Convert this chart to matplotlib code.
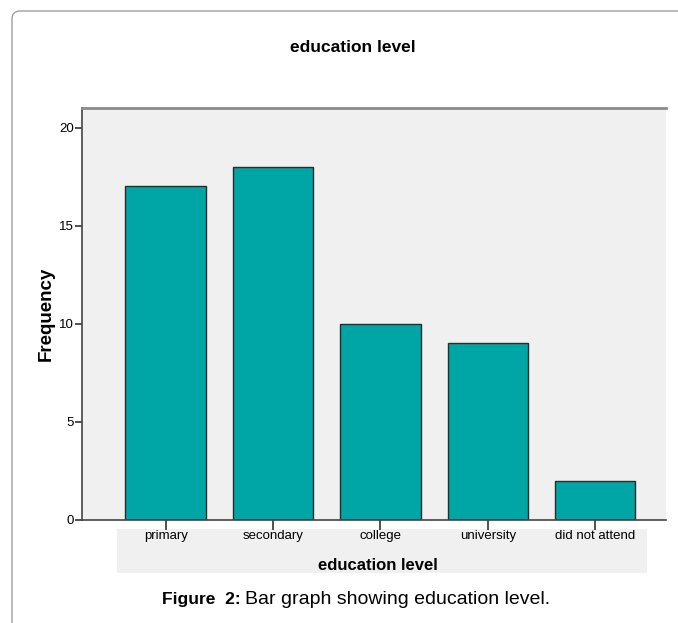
import matplotlib
matplotlib.use("Agg")
import matplotlib.pyplot as plt
from matplotlib.patches import Rectangle, FancyBboxPatch

categories = ["primary", "secondary", "college", "university", "did not attend"]
frequency = [17, 18, 10, 9, 2]
yticks = [0, 5, 10, 15, 20]

W, H = 678, 623
fig = plt.figure(figsize=(W / 100, H / 100), dpi=100)
fig.patch.set_facecolor("white")

def fx(px):
    return px / W

def fy(py):
    return 1 - py / H

narrow = ["Liberation Sans Narrow", "Liberation Sans", "DejaVu Sans"]
sans = ["Liberation Sans", "DejaVu Sans"]

# outer rounded frame (partially outside the figure)
frame = FancyBboxPatch((fx(12), fy(11) - 1.5), 1.5, 1.5,
                       boxstyle="round,pad=0,rounding_size=0.012",
                       mutation_aspect=W / H,
                       transform=fig.transFigure, facecolor="none", edgecolor="#a0a0a0",
                       linewidth=1.0, zorder=-5)
fig.patches.append(frame)

# x label background box
fig.patches.append(Rectangle((fx(117), fy(573)), fx(647) - fx(117), fy(529) - fy(573),
                             transform=fig.transFigure, facecolor="#f0f0f0", edgecolor="none", zorder=-5))

ax = fig.add_axes([fx(82), fy(520), fx(666) - fx(82), fy(108) - fy(520)])
ax.set_zorder(2)
ax.set_facecolor("#f0f0f0")
x = list(range(len(categories)))
ax.bar(x, frequency, width=0.75, color="#00a5a5", edgecolor="#2b2b2b", linewidth=1.0, zorder=2)
ax.set_xlim(-0.78, 4.66)
ax.set_ylim(0, 21)
ax.set_yticks(yticks)
ax.set_yticklabels([str(v) for v in yticks], fontfamily=narrow, fontsize=9.5)
ax.set_xticks(x)
ax.set_xticklabels(categories, fontfamily=narrow, fontsize=9.5, va="baseline")
ax.tick_params(axis="y", direction="out", length=5, width=1.2, color="#333333", pad=1)
ax.tick_params(axis="x", direction="out", length=7, width=1.2, color="#333333", pad=7)
ax.spines["right"].set_visible(False)
ax.spines["top"].set_color("#8a8a8a")
ax.spines["top"].set_linewidth(2.0)
ax.spines["left"].set_color("#444444")
ax.spines["left"].set_linewidth(1.2)
ax.spines["bottom"].set_color("#444444")
ax.spines["bottom"].set_linewidth(1.2)

ax.set_ylabel("Frequency", fontfamily=sans, fontsize=13.5, fontweight="bold", labelpad=3)

fig.text(fx(353), fy(47), "education level", ha="center", va="center",
         fontfamily=sans, fontsize=12.5, fontweight="bold")
fig.text(fx(378), fy(565), "education level", ha="center", va="center",
         fontfamily=sans, fontsize=12, fontweight="bold")

fig.text(fx(241), fy(604), "Figure  2:", ha="right", va="baseline",
         fontfamily=sans, fontsize=12.5, fontweight="bold")
fig.text(fx(245), fy(604), "Bar graph showing education level.", ha="left", va="baseline",
         fontfamily=sans, fontsize=14)

fig.savefig("out.png", dpi=100)
